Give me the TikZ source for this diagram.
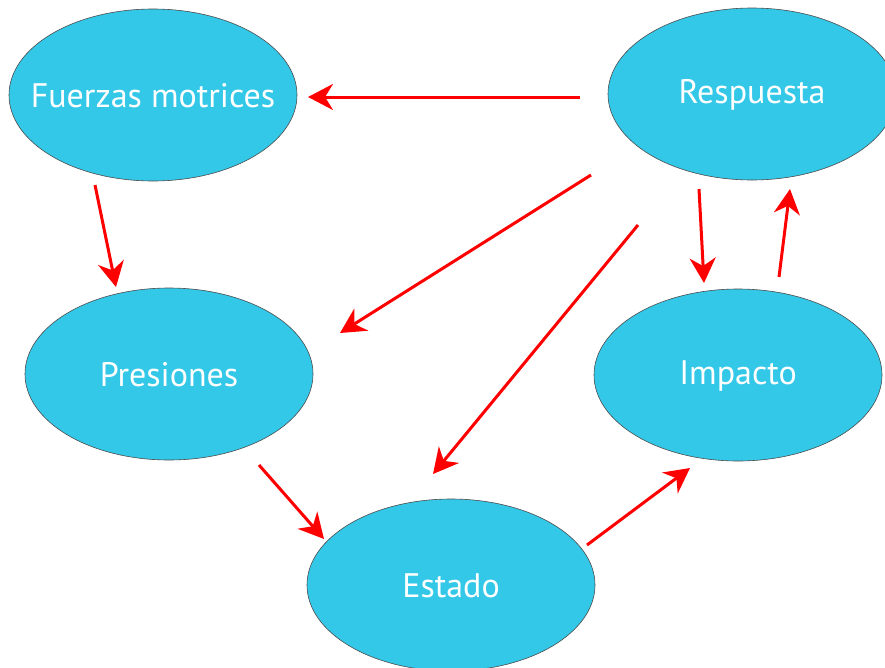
\documentclass[tikz,border=0pt]{standalone}
\usepackage{fontspec}
\setmainfont{PT Sans}
\usetikzlibrary{shapes.geometric,arrows.meta}
\definecolor{elfill}{RGB}{51,200,232}
\definecolor{arred}{RGB}{255,0,0}
\tikzset{
  elnode/.style={ellipse, draw=black!70, line width=0.6pt, fill=elfill,
    minimum width=288pt, minimum height=172pt, inner sep=0pt,
    label={[text=white, font=\fontsize{34}{38}\selectfont, inner sep=0pt, yshift=-1pt]center:#1}},
  redarrow/.style={draw=arred, line width=3pt,
    -{Stealth[length=25pt,width=26pt,inset=8pt]}}
}
\begin{document}
\begin{tikzpicture}[x=1pt,y=-1pt]
\useasboundingbox (0,0) rectangle (885,667);
\fill[white] (0,0) rectangle (885,667);
\node[elnode={Fuerzas motrices}] (fuer) at (153,95) {};
\node[elnode={Respuesta}] (resp) at (752,94) {};
\node[elnode={Presiones}] (pres) at (169,374) {};
\node[elnode={Impacto}] (impa) at (738,375) {};
\node[elnode={Estado}] (esta) at (451,585) {};
% connector ends
\coordinate (rf1) at (580,97);  \coordinate (rf2) at (308,97);
\coordinate (fp1) at (95,185);  \coordinate (fp2) at (116,287);
\coordinate (rp1) at (591,175); \coordinate (rp2) at (340,333);
\coordinate (re1) at (638,225); \coordinate (re2) at (433,474);
\coordinate (ri1) at (699,189); \coordinate (ri2) at (704,283);
\coordinate (ir1) at (779,277); \coordinate (ir2) at (790,189);
\coordinate (pe1) at (259,465); \coordinate (pe2) at (324,539);
\coordinate (ei1) at (587,545); \coordinate (ei2) at (690,468);
\draw[redarrow] (rf1) -- (rf2);
\draw[redarrow] (fp1) -- (fp2);
\draw[redarrow] (rp1) -- (rp2);
\draw[redarrow] (re1) -- (re2);
\draw[redarrow] (ri1) -- (ri2);
\draw[redarrow] (ir1) -- (ir2);
\draw[redarrow] (pe1) -- (pe2);
\draw[redarrow] (ei1) -- (ei2);
\end{tikzpicture}
\end{document}
